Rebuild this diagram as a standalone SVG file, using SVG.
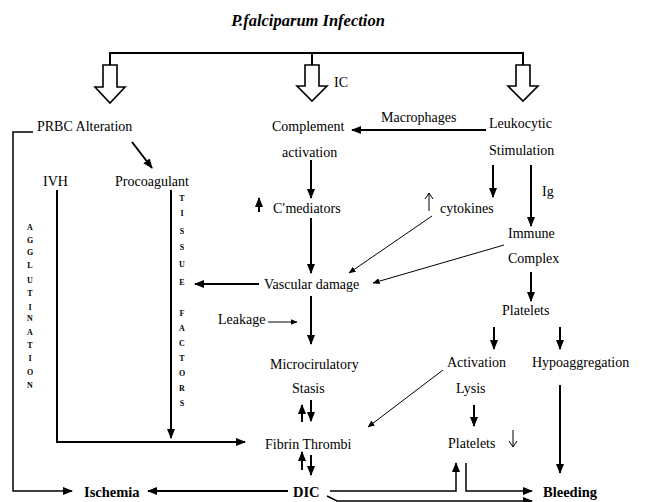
<svg xmlns="http://www.w3.org/2000/svg" width="648" height="502" viewBox="0 0 648 502">
<style>
text{font-family:"Liberation Serif","Times New Roman",serif;font-size:14px;fill:#000}
.b{font-weight:bold;font-size:14.5px}
.t{font-weight:bold;font-style:italic;font-size:16.5px;text-anchor:middle}
.s{font-weight:bold;font-size:8px;text-anchor:middle}
.k{fill:none;stroke:#000;stroke-width:2}
.n{fill:none;stroke:#000;stroke-width:1}
.h{fill:#fff;stroke:#000;stroke-width:1.6}
</style>
<defs>
<marker id="ah" markerUnits="userSpaceOnUse" markerWidth="10" markerHeight="8" refX="9" refY="4" orient="auto"><path d="M0,0 L10,4 L0,8 z" fill="#000"/></marker>
<marker id="as" markerUnits="userSpaceOnUse" markerWidth="7" markerHeight="6" refX="6.5" refY="3" orient="auto"><path d="M0,0 L7,3 L0,6 z" fill="#000"/></marker>
<marker id="ao" markerUnits="userSpaceOnUse" markerWidth="8" markerHeight="10" refX="7" refY="5" orient="auto"><path d="M1,1 L7,5 L1,9" fill="none" stroke="#000" stroke-width="1"/></marker>
</defs>
<rect width="648" height="502" fill="#fff"/>
<text class="t" x="308" y="26">P.falciparum Infection</text>
<g id="split">
<path class="k" d="M110,66 V53 H523 V66 M312,53 V66"/>
<path class="h" d="M103,65 H117 V87 H125 L110,103 L95,87 H103 Z"/>
<path class="h" d="M305,65 H319 V86 H327 L312,101 L297,86 H305 Z"/>
<path class="h" d="M516,65 H530 V86 H538 L523,101 L508,86 H516 Z"/>
<text x="334" y="87">IC</text>
</g>
<g id="connectors">
<path class="k" d="M486,130 H352" marker-end="url(#ah)"/>
<path class="k" d="M132,142 L152,168" marker-end="url(#ah)"/>
<path class="k" d="M311,160 V198" marker-end="url(#ah)"/>
<path class="k" d="M311,218 V273" marker-end="url(#ah)"/>
<path class="k" d="M259,284 H195" marker-end="url(#ah)"/>
<path class="k" d="M311,296 V344" marker-end="url(#ah)"/>
<path class="k" d="M57,190 V442 H245" marker-end="url(#ah)"/>
<path class="k" d="M171,190 V438" marker-end="url(#ah)"/>
<path class="k" d="M493,165 V197" marker-end="url(#ah)"/>
<path class="k" d="M531,165 V226" marker-end="url(#ah)"/>
<path class="k" d="M531,272 V301" marker-end="url(#ah)"/>
<path class="k" d="M494,327 V349" marker-end="url(#ah)"/>
<path class="k" d="M560,327 V349" marker-end="url(#ah)"/>
<path class="k" d="M474,405 V426" marker-end="url(#ah)"/>
<path class="k" d="M560,385 V473" marker-end="url(#ah)"/>
<path class="k" d="M288,491 H148" marker-end="url(#ah)"/>
<path class="n" style="stroke-width:1.5" d="M33,132 H13 V491 H72" marker-end="url(#ah)"/>
<path class="n" style="stroke-width:1.5" d="M330,491 H456 V463" marker-end="url(#ah)"/>
<path class="n" style="stroke-width:1.5" d="M466,463 V491 H532" marker-end="url(#ah)"/>
<path class="n" style="stroke-width:1.5" d="M327,496 L337,501 H532" marker-end="url(#ah)"/>
<path class="k" d="M302,422 V405" marker-end="url(#ah)"/>
<path class="k" d="M311,400 V421" marker-end="url(#ah)"/>
<path class="k" d="M302,470 V452" marker-end="url(#ah)"/>
<path class="k" d="M311,455 V475" marker-end="url(#ah)"/>
<path class="k" d="M259,212 V198" marker-end="url(#ah)"/>
<path class="n" d="M268,322 H297" marker-end="url(#as)"/>
<path class="n" d="M432,216 L349,273" marker-end="url(#as)"/>
<path class="n" d="M504,245 L373,283" marker-end="url(#as)"/>
<path class="n" d="M443,370 L368,427" marker-end="url(#as)"/>
<path class="n" d="M429,211 V193" marker-end="url(#ao)"/>
<path class="n" d="M513,430 V447" marker-end="url(#ao)"/>
</g>
<g id="prbc"><text x="37" y="131">PRBC Alteration</text></g>
<g id="ivh"><text x="43" y="186">IVH</text></g>
<g id="procoagulant"><text x="115" y="186">Procoagulant</text></g>
<g id="agglutination">
<text class="s" x="30" y="230">A</text><text class="s" x="30" y="243">G</text><text class="s" x="30" y="255">G</text><text class="s" x="30" y="268">L</text><text class="s" x="30" y="283">U</text><text class="s" x="30" y="296">T</text><text class="s" x="30" y="310">I</text><text class="s" x="30" y="321">N</text><text class="s" x="30" y="335">A</text><text class="s" x="30" y="348">T</text><text class="s" x="30" y="361">I</text><text class="s" x="30" y="375">O</text><text class="s" x="30" y="388">N</text>
</g>
<g id="tissuefactors">
<text class="s" x="182" y="201">T</text><text class="s" x="182" y="216">I</text><text class="s" x="182" y="234">S</text><text class="s" x="182" y="250">S</text><text class="s" x="182" y="267">U</text><text class="s" x="182" y="285">E</text>
<text class="s" x="182" y="316">F</text><text class="s" x="182" y="331">A</text><text class="s" x="182" y="346">C</text><text class="s" x="182" y="361">T</text><text class="s" x="182" y="376">O</text><text class="s" x="182" y="391">R</text><text class="s" x="182" y="406">S</text>
</g>
<g id="complement"><text x="272" y="131">Complement</text><text x="282" y="157">activation</text></g>
<g id="macrophages"><text x="381" y="122">Macrophages</text></g>
<g id="leukocytic"><text x="489" y="128">Leukocytic</text><text x="489" y="155">Stimulation</text></g>
<g id="cmediators"><text x="273" y="213">C′mediators</text></g>
<g id="cytokines"><text x="440" y="213">cytokines</text></g>
<g id="ig"><text x="542" y="196">Ig</text></g>
<g id="immune"><text x="508" y="238">Immune</text><text x="508" y="263">Complex</text></g>
<g id="vascular"><text x="264" y="289">Vascular damage</text></g>
<g id="leakage"><text x="218" y="324">Leakage</text></g>
<g id="micro"><text x="270" y="369">Microcirulatory</text><text x="292" y="393">Stasis</text></g>
<g id="fibrin"><text x="265" y="449">Fibrin Thrombi</text></g>
<g id="dic"><text class="b" x="293" y="497">DIC</text></g>
<g id="ischemia"><text class="b" x="84" y="497">Ischemia</text></g>
<g id="bleeding"><text class="b" x="543" y="497">Bleeding</text></g>
<g id="platelets1"><text x="502" y="315">Platelets</text></g>
<g id="activation"><text x="447" y="367">Activation</text></g>
<g id="hypo"><text x="532" y="367">Hypoaggregation</text></g>
<g id="lysis"><text x="456" y="393">Lysis</text></g>
<g id="platelets2"><text x="448" y="448">Platelets</text></g>
</svg>
